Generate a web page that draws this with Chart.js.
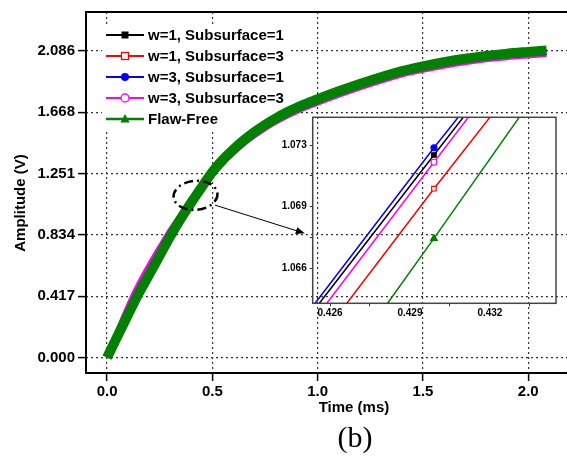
<!DOCTYPE html>
<html>
<head>
<meta charset="utf-8">
<script src="https://cdn.jsdelivr.net/npm/chart.js@4.4.0/dist/chart.umd.min.js"></script>
<style>
  html, body { margin: 0; padding: 0; background: #fff; overflow: hidden; }
  #wrap { position: relative; width: 567px; height: 456px; overflow: hidden; }
  #main { position: absolute; left: 0; top: 0; }
  #inset { position: absolute; left: 270px; top: 105px; }
  #tag { position: absolute; left: 325px; top: 422px; width: 60px; text-align: center;
         font-family: "Liberation Serif", serif; font-size: 30px; line-height: 30px; color: #000; }
</style>
</head>
<body>
<div id="wrap">
  <canvas id="main" width="630" height="456"></canvas>
  <canvas id="inset" width="297" height="220"></canvas>
  <div id="tag">(b)</div>
</div>
<script>
// ---- data ----
const seriesNames = ['w=1, Subsurface=1', 'w=1, Subsurface=3', 'w=3, Subsurface=1', 'w=3, Subsurface=3', 'Flaw-Free'];
const seriesColors = ['#000000', '#ff0000', '#0000ff', '#ff00ff', '#008000'];

// main plot (time in ms, amplitude in V)
const timeMs = [0, 0.05, 0.10, 0.15, 0.20, 0.25, 0.30, 0.35, 0.40, 0.45,
                0.50, 0.55, 0.60, 0.65, 0.70, 0.75, 0.80, 0.85, 0.90, 0.95,
                1.00, 1.10, 1.20, 1.30, 1.40, 1.50, 1.60, 1.70, 1.80, 1.90,
                2.00, 2.087];
const flawFree = [0, 0.148, 0.293, 0.436, 0.565, 0.695, 0.825, 0.945, 1.055, 1.160,
                  1.262, 1.345, 1.415, 1.478, 1.533, 1.582, 1.625, 1.664, 1.698, 1.728,
                  1.756, 1.810, 1.860, 1.906, 1.948, 1.980, 2.008, 2.032, 2.051, 2.066,
                  2.078, 2.088];
// the three flawed traces sit under the flaw-free band at this scale
const w1s1Main = flawFree;
const w1s3Main = flawFree;
const w3s1Main = flawFree;
// magenta trace peeks out along the edge of the green band
const w3s3Main = [0, 0.198, 0.368, 0.516, 0.645, 0.765, 0.880, 0.980, 1.067, 1.152,
                  1.240, 1.315, 1.381, 1.444, 1.499, 1.548, 1.591, 1.630, 1.664, 1.694,
                  1.722, 1.776, 1.826, 1.872, 1.914, 1.946, 1.974, 1.998, 2.017, 2.032,
                  2.044, 2.054];
const xTicks = [0, 0.5, 1.0, 1.5, 2.0];
const yTicks = [0, 0.417, 0.834, 1.251, 1.668, 2.086];

// inset (zoom around t = 0.43 ms)
const insetTimeW1S1 = [0.42560, 0.42990, 0.43100];
const insetAmpW1S1  = [1.06397, 1.07215, 1.07423];
const insetTimeW1S3 = [0.42663, 0.42990, 0.43200];
const insetAmpW1S3  = [1.06397, 1.07029, 1.07423];
const insetTimeW3S1 = [0.42544, 0.42990, 0.43081];
const insetAmpW3S1  = [1.06397, 1.07255, 1.07423];
const insetTimeW3S3 = [0.42588, 0.42990, 0.43119];
const insetAmpW3S3  = [1.06397, 1.07175, 1.07423];
const insetTimeFree = [0.42816, 0.42990, 0.43310];
const insetAmpFree  = [1.06397, 1.06755, 1.07423];
const insetXMajor = [0.426, 0.429, 0.432];
const insetXMinor = [0.4275, 0.4305, 0.4335];
const insetYMajor = [1.0659, 1.0693, 1.0727];
const insetYMinor = [1.0676, 1.0710];

// annotation anchors (data units)
const lensCenter = [0.42, 1.103];
const arrowFrom = [0.512, 1.037];
const arrowTo = [0.939, 0.845];

Chart.defaults.font.family = '"Liberation Sans", Arial, sans-serif';
Chart.defaults.color = '#000';

const toXY = (ts, vs) => ts.map((t, i) => ({x: t, y: vs[i]}));
const boldFont = size => ({size: size, weight: 'bold'});

function drawMarker(ctx, kind, cx, cy, color) {
  ctx.save();
  ctx.lineWidth = 1.3;
  ctx.strokeStyle = color;
  ctx.fillStyle = color;
  if (kind === 'square' || kind === 'openSquare') {
    if (kind === 'openSquare') { ctx.fillStyle = '#fff'; }
    ctx.fillRect(cx - 3.5, cy - 3.5, 7, 7);
    if (kind === 'openSquare') ctx.strokeRect(cx - 3.5, cy - 3.5, 7, 7);
  } else if (kind === 'circle' || kind === 'openCircle') {
    ctx.beginPath();
    ctx.arc(cx, cy, 4, 0, Math.PI * 2);
    if (kind === 'openCircle') { ctx.fillStyle = '#fff'; }
    ctx.fill();
    if (kind === 'openCircle') ctx.stroke();
  } else {
    ctx.beginPath();
    ctx.moveTo(cx, cy - 5);
    ctx.lineTo(cx + 4.6, cy + 3.5);
    ctx.lineTo(cx - 4.6, cy + 3.5);
    ctx.closePath();
    ctx.fill();
  }
  ctx.restore();
}

const markerKinds = ['square', 'openSquare', 'circle', 'openCircle', 'triangle'];

const mainDecor = {
  id: 'mainDecor',
  beforeDatasetsDraw(chart) {
    const {ctx, chartArea: a} = chart;
    ctx.save();
    ctx.fillStyle = '#fff';
    ctx.fillRect(a.left + 16, a.top + 12, 186, 108);
    ctx.restore();
  },
  afterDatasetsDraw(chart) {
    const {ctx, chartArea: a, scales: {x, y}} = chart;
    ctx.save();
    ctx.strokeStyle = '#000';
    ctx.lineWidth = 2;
    ctx.strokeRect(a.left, a.top, a.right - a.left, a.bottom - a.top);

    // dashed lens around the zoomed region
    ctx.setLineDash([9, 4, 2, 4]);
    ctx.lineWidth = 2.5;
    ctx.beginPath();
    ctx.ellipse(x.getPixelForValue(lensCenter[0]), y.getPixelForValue(lensCenter[1]), 22, 14.5, -0.08, 0, Math.PI * 2);
    ctx.stroke();
    ctx.setLineDash([]);

    // arrow to the inset
    const x1 = x.getPixelForValue(arrowFrom[0]), y1 = y.getPixelForValue(arrowFrom[1]);
    const x2 = x.getPixelForValue(arrowTo[0]), y2 = y.getPixelForValue(arrowTo[1]);
    const ang = Math.atan2(y2 - y1, x2 - x1);
    ctx.lineWidth = 1;
    ctx.beginPath();
    ctx.moveTo(x1, y1);
    ctx.lineTo(x2 - 6 * Math.cos(ang), y2 - 6 * Math.sin(ang));
    ctx.stroke();
    ctx.beginPath();
    ctx.moveTo(x2, y2);
    ctx.lineTo(x2 - 9 * Math.cos(ang) + 3.5 * Math.sin(ang), y2 - 9 * Math.sin(ang) - 3.5 * Math.cos(ang));
    ctx.lineTo(x2 - 9 * Math.cos(ang) - 3.5 * Math.sin(ang), y2 - 9 * Math.sin(ang) + 3.5 * Math.cos(ang));
    ctx.closePath();
    ctx.fillStyle = '#000';
    ctx.fill();
    ctx.restore();
  },
  afterDraw(chart) {
    const {ctx, chartArea: a} = chart;
    ctx.save();
    ctx.font = 'bold 15px "Liberation Sans", Arial, sans-serif';
    ctx.textBaseline = 'middle';
    ctx.textAlign = 'left';
    seriesNames.forEach((name, i) => {
      const ry = a.top + 23 + i * 21;
      ctx.strokeStyle = seriesColors[i];
      ctx.lineWidth = i === 4 ? 2.5 : 2;
      ctx.beginPath();
      ctx.moveTo(a.left + 20, ry);
      ctx.lineTo(a.left + 58, ry);
      ctx.stroke();
      drawMarker(ctx, markerKinds[i], a.left + 39, ry, seriesColors[i]);
      ctx.fillStyle = '#000';
      ctx.fillText(name, a.left + 62, ry + 1);
    });

    // y-axis title, sitting a little below the middle of the axis as in the source
    ctx.translate(21, (a.top + a.bottom) / 2 + 10.5);
    ctx.rotate(-Math.PI / 2);
    ctx.textAlign = 'center';
    ctx.fillText('Amplitude (V)', 0, 0);
    ctx.restore();
  }
};

const mainData = [w1s1Main, w1s3Main, w3s1Main, w3s3Main, flawFree];
const mainWidths = [2, 2, 2, 3, 10];

new Chart(document.getElementById('main'), {
  type: 'line',
  data: {
    datasets: seriesNames.map((name, i) => ({
      label: name,
      data: toXY(timeMs, mainData[i]),
      borderColor: seriesColors[i],
      borderWidth: mainWidths[i],
      pointRadius: 0,
      cubicInterpolationMode: 'monotone',
      order: 4 - i
    }))
  },
  options: {
    responsive: false,
    animation: false,
    layout: {padding: {top: 12, right: 8, left: 0, bottom: 0}},
    plugins: {legend: {display: false}, tooltip: {enabled: false}},
    scales: {
      x: {
        type: 'linear',
        min: -0.1,
        max: 2.445,
        afterBuildTicks: s => { s.ticks = xTicks.map(v => ({value: v})); },
        afterFit: s => { s.height = 83; },
        ticks: {font: boldFont(15), padding: 2, color: '#000', callback: v => v.toFixed(1)},
        grid: {color: '#333', lineWidth: 1.2, tickLength: 8, tickColor: '#000', tickWidth: 1.5},
        border: {display: false, dash: [2, 3]},
        title: {display: true, text: 'Time (ms)', font: boldFont(15), color: '#000', padding: {top: 0, bottom: 39}}
      },
      y: {
        min: -0.104,
        max: 2.349,
        afterBuildTicks: s => { s.ticks = yTicks.map(v => ({value: v})); },
        afterFit: s => { s.width = 86; },
        ticks: {font: boldFont(15), padding: 3, color: '#000', callback: v => v.toFixed(3)},
        grid: {color: '#333', lineWidth: 1.2, tickLength: 8, tickColor: '#000', tickWidth: 1.5},
        border: {display: false, dash: [2, 3]}
      }
    }
  },
  plugins: [mainDecor]
});

// ---- inset ----
const insetFrame = {
  id: 'insetFrame',
  afterDatasetsDraw(chart) {
    const {ctx, chartArea: a} = chart;
    ctx.save();
    ctx.strokeStyle = '#444';
    ctx.lineWidth = 1.5;
    ctx.strokeRect(a.left, a.top, a.right - a.left, a.bottom - a.top);
    ctx.restore();
  }
};

const insetTimes = [insetTimeW1S1, insetTimeW1S3, insetTimeW3S1, insetTimeW3S3, insetTimeFree];
const insetAmps = [insetAmpW1S1, insetAmpW1S3, insetAmpW3S1, insetAmpW3S3, insetAmpFree];
const insetStyles = ['rect', 'rect', 'circle', 'circle', 'triangle'];
const insetFills = ['#000000', '#ffffff', '#0000ff', '#ffffff', '#008000'];
const insetRadius = [3.2, 3.2, 3, 3, 3.8];

new Chart(document.getElementById('inset'), {
  type: 'line',
  data: {
    datasets: seriesNames.map((name, i) => ({
      label: name,
      data: toXY(insetTimes[i], insetAmps[i]),
      borderColor: seriesColors[i],
      borderWidth: 1.5,
      pointStyle: insetStyles[i],
      pointRadius: [0, insetRadius[i], 0],
      pointBackgroundColor: insetFills[i],
      pointBorderColor: seriesColors[i],
      pointBorderWidth: 1.2,
      order: i === 4 ? 0 : 4 - i
    }))
  },
  options: {
    responsive: false,
    animation: false,
    layout: {padding: {top: 12.3, right: 11, left: 0, bottom: 0}},
    plugins: {legend: {display: false}, tooltip: {enabled: false}},
    scales: {
      x: {
        type: 'linear',
        min: 0.42535,
        max: 0.43448,
        afterBuildTicks: s => { s.ticks = insetXMajor.concat(insetXMinor).sort((p, q) => p - q).map(v => ({value: v})); },
        afterFit: s => { s.height = 21.7; },
        ticks: {font: boldFont(10), padding: 1, color: '#000',
                callback: v => insetXMajor.some(m => Math.abs(m - v) < 1e-7) ? v.toFixed(3) : ''},
        grid: {drawOnChartArea: false, tickLength: 3, tickColor: '#333', tickWidth: 1},
        border: {display: false}
      },
      y: {
        min: 1.06397,
        max: 1.07423,
        afterBuildTicks: s => { s.ticks = insetYMajor.concat(insetYMinor).sort((p, q) => p - q).map(v => ({value: v})); },
        afterFit: s => { s.width = 42.7; },
        ticks: {font: boldFont(10), padding: 3, color: '#000',
                callback: v => insetYMajor.some(m => Math.abs(m - v) < 1e-7) ? v.toFixed(3) : ''},
        grid: {drawOnChartArea: false, tickLength: 3, tickColor: '#333', tickWidth: 1},
        border: {display: false}
      }
    }
  },
  plugins: [insetFrame]
});
</script>
</body>
</html>
